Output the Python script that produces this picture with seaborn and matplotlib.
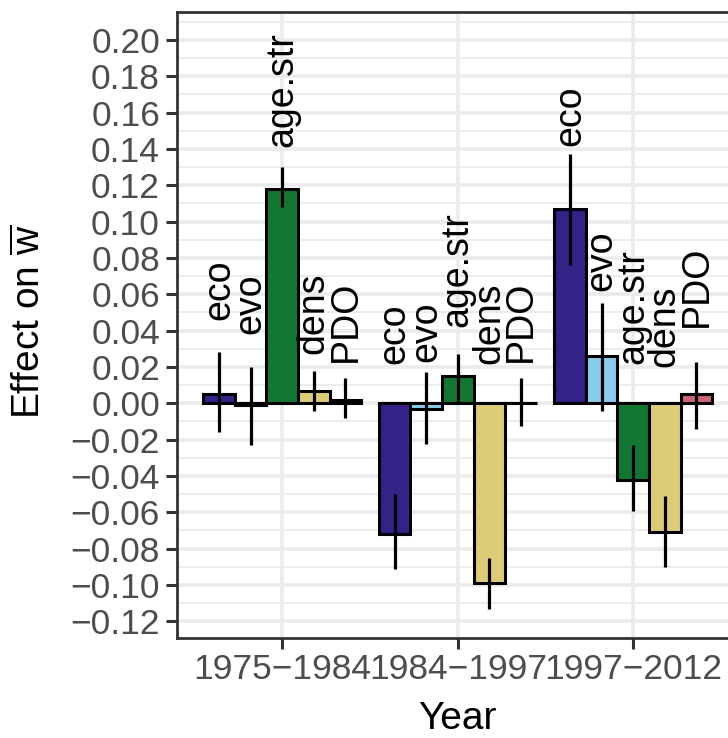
import numpy as np
import pandas as pd
import matplotlib
matplotlib.use("Agg")
import matplotlib.pyplot as plt
from matplotlib.ticker import FixedLocator, MultipleLocator
import seaborn as sns

# ---- data -------------------------------------------------------------
years = ["1975\u22121984", "1984\u22121997", "1997\u22122012"]
components = ["eco", "evo", "age.str", "dens", "PDO"]

eco = [0.005, -0.072, 0.107]
evo = [-0.001, -0.003, 0.026]
age_str = [0.118, 0.015, -0.042]
dens = [0.007, -0.099, -0.071]
pdo = [0.002, 0.000, 0.005]

eco_lo = [-0.016, -0.091, 0.076]
eco_hi = [0.028, -0.050, 0.137]
evo_lo = [-0.023, -0.0225, -0.0045]
evo_hi = [0.020, 0.017, 0.055]
age_lo = [0.108, 0.0005, -0.0595]
age_hi = [0.130, 0.027, -0.023]
dens_lo = [-0.004, -0.113, -0.090]
dens_hi = [0.0176, -0.085, -0.051]
pdo_lo = [-0.008, -0.0127, -0.014]
pdo_hi = [0.0138, 0.0138, 0.023]

# heights where the (repelled) component labels start
label_y = {
    "eco": [0.046, 0.0215, 0.1416],
    "evo": [0.038, 0.0226, 0.0617],
    "age.str": [0.141, 0.042, 0.0215],
    "dens": [0.027, 0.0215, 0.020],
    "PDO": [0.0226, 0.0226, 0.042],
}

y_ticks = [-0.12, -0.10, -0.08, -0.06, -0.04, -0.02, 0.00,
           0.02, 0.04, 0.06, 0.08, 0.10, 0.12, 0.14, 0.16, 0.18, 0.20]

palette = {"eco": "#332288", "evo": "#88CCEE", "age.str": "#117733",
           "dens": "#DDCC77", "PDO": "#CC6677"}

values = {"eco": eco, "evo": evo, "age.str": age_str, "dens": dens, "PDO": pdo}
lows = {"eco": eco_lo, "evo": evo_lo, "age.str": age_lo, "dens": dens_lo, "PDO": pdo_lo}
highs = {"eco": eco_hi, "evo": evo_hi, "age.str": age_hi, "dens": dens_hi, "PDO": pdo_hi}

rows = []
for comp in components:
    for i, yr in enumerate(years):
        rows.append({"Year": yr, "component": comp, "effect": values[comp][i],
                     "lo": lows[comp][i], "hi": highs[comp][i],
                     "label_y": label_y[comp][i]})
df = pd.DataFrame(rows)

# ---- style ------------------------------------------------------------
sns.set_theme(style="white")
plt.rcParams["font.family"] = ["Liberation Sans", "DejaVu Sans"]
plt.rcParams["mathtext.fontset"] = "custom"
plt.rcParams["mathtext.rm"] = "Liberation Sans"
plt.rcParams["mathtext.it"] = "Liberation Sans"

W, H = 728, 738
fig = plt.figure(figsize=(W / 100, H / 100), dpi=100)
left, right, top, bottom = 177, 738.5, 12, 638
ax = fig.add_axes([left / W, 1 - bottom / H, (right - left) / W, (bottom - top) / H])

sns.barplot(data=df, x="Year", y="effect", hue="component", order=years,
            hue_order=components, palette=palette, width=0.9, errorbar=None,
            edgecolor="black", linewidth=2.2, saturation=1, legend=False, ax=ax,
            zorder=3)

# error bars and labels, placed at each bar's center
patches = [p for p in ax.patches if isinstance(p, matplotlib.patches.Rectangle)]
k = 0
for comp in components:
    for i, yr in enumerate(years):
        p = patches[k]
        k += 1
        xc = p.get_x() + p.get_width() / 2
        ax.vlines(xc, lows[comp][i], highs[comp][i], color="black", lw=2.3, zorder=4)
        ax.text(xc, label_y[comp][i], comp, rotation=90, ha="center", va="bottom",
                fontsize=27, color="black", zorder=5)

ax.set_xlim(-0.6, 2.6)
ax.set_ylim(-0.1292, 0.2154)

ax.yaxis.set_major_locator(FixedLocator(y_ticks))
ax.set_yticklabels([f"{t:.2f}".replace("-", "\u2212") for t in y_ticks])
ax.yaxis.set_minor_locator(MultipleLocator(0.01))

ax.grid(which="major", axis="both", color="#EBEBEB", lw=2.6, zorder=0)
ax.grid(which="minor", axis="y", color="#EBEBEB", lw=1.3, zorder=0)
ax.set_axisbelow(True)

for s in ax.spines.values():
    s.set_visible(True)
    s.set_color("#333333")
    s.set_linewidth(2.0)

ax.tick_params(axis="both", which="major", length=8, width=2.2, color="#333333",
               labelcolor="#4D4D4D", labelsize=25.5)
ax.tick_params(axis="x", pad=3)
ax.tick_params(axis="y", pad=4.3)
ax.tick_params(which="minor", length=0)
ax.tick_params(bottom=True, left=True)

ax.set_xlabel("")
ax.set_ylabel("")
fig.text(30 / W, 1 - 322 / H, r"Effect on $\overline{\mathrm{w}}$", rotation=90,
         ha="center", va="center", fontsize=28, color="black")
fig.text((left + right) / 2 / W, 1 - 719 / H, "Year", ha="center", va="center",
         fontsize=28, color="black")

fig.savefig("out.png", dpi=100)
